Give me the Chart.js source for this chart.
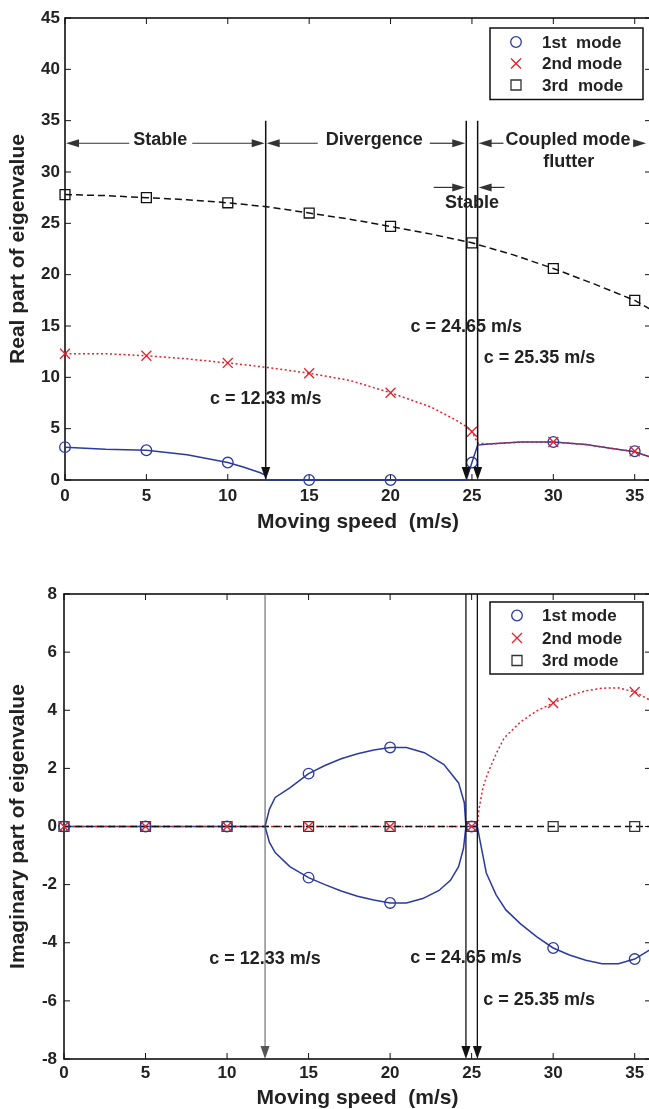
<!DOCTYPE html>
<html>
<head>
<meta charset="utf-8">
<script src="https://cdn.jsdelivr.net/npm/chart.js@4.4.1/dist/chart.umd.min.js"></script>
<style>
html, body { margin: 0; padding: 0; background: #fff; overflow: hidden; width: 649px; height: 1109px; }
canvas { position: absolute; left: 0; }
#c1 { top: 0; }
#c2 { top: 545px; }
</style>
</head>
<body>
<canvas id="c1" width="651" height="545"></canvas>
<canvas id="c2" width="651" height="566"></canvas>
<script>
// ---------- data ----------
const speedTicks = [0, 5, 10, 15, 20, 25, 30, 35];
const realTicks = [0, 5, 10, 15, 20, 25, 30, 35, 40, 45];
const imagTicks = [-8, -6, -4, -2, 0, 2, 4, 6, 8];
const criticalSpeeds = [12.33, 24.65, 25.35];
const criticalLabels = ['c = 12.33 m/s', 'c = 24.65 m/s', 'c = 25.35 m/s'];
const regionLabels = ['Stable', 'Divergence', 'Coupled mode', 'flutter', 'Stable'];
const modeNamesTop = ['1st  mode', '2nd mode', '3rd  mode'];
const modeNamesBottom = ['1st mode', '2nd mode', '3rd mode'];
const xTitle = 'Moving speed  (m/s)';
const yTitleTop = 'Real part of eigenvalue';
const yTitleBottom = 'Imaginary part of eigenvalue';

const markerSpeeds = [0, 5, 10, 15, 20, 25, 30, 35];

// real part (top)
const real1Markers = [3.2, 2.9, 1.7, 0, 0, 1.7, 3.7, 2.8];
const real2Markers = [12.3, 12.1, 11.4, 10.4, 8.5, 4.7, 3.7, 2.8];
const real3Markers = [27.8, 27.5, 27.0, 26.0, 24.7, 23.1, 20.6, 17.5];
const real1CurveX = [0, 2.5, 5, 7.5, 10, 11, 12, 12.33, 12.33, 15, 20, 24.65, 25, 25.35, 26, 28, 30, 32, 33.5, 35, 36];
const real1CurveY = [3.2, 3.0, 2.9, 2.45, 1.7, 1.25, 0.7, 0.45, 0, 0, 0, 0, 1.7, 3.4, 3.5, 3.7, 3.7, 3.45, 3.1, 2.75, 2.2];
const real2CurveX = [0, 2.5, 5, 7.5, 10, 12.5, 15, 17.5, 20, 22.5, 24, 24.65, 25, 25.35, 26, 28, 30, 32, 33.5, 35, 36];
const real2CurveY = [12.3, 12.3, 12.1, 11.8, 11.4, 10.95, 10.4, 9.7, 8.5, 7.1, 5.85, 5.2, 4.7, 3.6, 3.5, 3.7, 3.7, 3.45, 3.1, 2.75, 2.2];
const real3CurveX = [0, 2.5, 5, 7.5, 10, 12.5, 15, 17.5, 20, 22.5, 25, 27.5, 30, 32.5, 35, 36];
const real3CurveY = [27.8, 27.7, 27.5, 27.3, 27.0, 26.6, 26.0, 25.4, 24.7, 23.95, 23.1, 21.95, 20.6, 19.1, 17.5, 16.6];

// imaginary part (bottom)
const imag1MarkerX = [0, 5, 10, 15, 15, 20, 20, 25, 30, 35];
const imag1MarkerY = [0, 0, 0, 1.82, -1.76, 2.72, -2.63, 0, -4.18, -4.56];
const imag2Markers = [0, 0, 0, 0, 0, 0, 4.25, 4.63];
const imag3Markers = [0, 0, 0, 0, 0, 0, 0, 0];
const imag1CurveX = [0, 12.33, 12.6, 12.95, 13.85, 15, 16, 17, 18, 19, 20, 21, 22.1, 23.3, 24.2, 24.55, 24.65, 25.35, 25.5, 25.9, 26.5, 27.1, 28, 29, 30, 31, 32, 33, 34, 35, 36];
const imag1CurveY = [0, 0, 0.6, 1.0, 1.33, 1.82, 2.1, 2.33, 2.5, 2.63, 2.72, 2.72, 2.54, 2.13, 1.5, 0.82, 0, 0, -0.45, -1.6, -2.35, -2.87, -3.35, -3.8, -4.18, -4.42, -4.6, -4.72, -4.72, -4.56, -4.22];
const imag1LowerX = [12.33, 12.6, 12.95, 13.85, 15, 16, 17, 18, 19, 20, 21, 22, 23, 23.7, 24.2, 24.5, 24.65];
const imag1LowerY = [0, -0.55, -0.9, -1.38, -1.76, -2.0, -2.22, -2.4, -2.53, -2.63, -2.63, -2.48, -2.2, -1.85, -1.38, -0.75, 0];
const imag2CurveX = [0, 25.35, 25.45, 25.7, 26, 26.5, 27, 28, 29, 30, 31, 32, 33, 34, 35, 36];
const imag2CurveY = [0, 0, 0.6, 1.35, 1.85, 2.5, 3.05, 3.6, 3.98, 4.25, 4.5, 4.67, 4.76, 4.77, 4.63, 4.33];
const imag3CurveX = [0, 36];
const imag3CurveY = [0, 0];

// ---------- styles ----------
const FONT = '"Liberation Sans", Arial, Helvetica, sans-serif';
const ANN_FONT = 'bold 18px ' + FONT;
const LEG_FONT = 'bold 17px ' + FONT;
const BLUE = '#2b3a9f', RED = '#e8202a', BLACK = '#111111', TEXT = '#222222';

function pts(xs, ys) { return xs.map((x, i) => ({ x: x, y: ys[i] })); }
function lineDs(label, xs, ys, color, dash, order) {
  return { label, data: pts(xs, ys), showLine: true, borderColor: color, borderWidth: 1.5,
    borderDash: dash, pointRadius: 0, pointHoverRadius: 0, tension: 0, fill: false, clip: false, order };
}
function markDs(label, xs, ys, color, style, r, order) {
  return { label, data: pts(xs, ys), showLine: false, pointStyle: style, pointRadius: r, pointHoverRadius: r,
    pointBorderColor: color, pointBackgroundColor: 'rgba(0,0,0,0)', pointBorderWidth: 1.3,
    borderColor: color, backgroundColor: 'rgba(0,0,0,0)', clip: false, order };
}

function seg(ctx, x1, y1, x2, y2) { ctx.beginPath(); ctx.moveTo(x1, y1); ctx.lineTo(x2, y2); ctx.stroke(); }
function arrowHead(ctx, tx, ty, dir, len, half) {
  ctx.beginPath();
  if (dir === 'down') { ctx.moveTo(tx, ty); ctx.lineTo(tx - half, ty - len); ctx.lineTo(tx + half, ty - len); }
  else if (dir === 'left') { ctx.moveTo(tx, ty); ctx.lineTo(tx + len, ty - half); ctx.lineTo(tx + len, ty + half); }
  else { ctx.moveTo(tx, ty); ctx.lineTo(tx - len, ty - half); ctx.lineTo(tx - len, ty + half); }
  ctx.closePath(); ctx.fill();
}
function vArrow(ctx, xs, ys, xv, fromV, toV, color, width) {
  const X = xs.getPixelForValue(xv), Y1 = ys.getPixelForValue(fromV), Y2 = ys.getPixelForValue(toV);
  ctx.strokeStyle = color; ctx.fillStyle = color; ctx.lineWidth = width;
  seg(ctx, X, Y1, X, Y2 - 8);
  arrowHead(ctx, X, Y2, 'down', 13, 4.5);
}
function text(ctx, str, x, y, align) {
  ctx.font = ANN_FONT; ctx.fillStyle = TEXT; ctx.textAlign = align || 'center'; ctx.textBaseline = 'middle';
  ctx.fillText(str, x, y);
}
function regionArrow(ctx, x1, x2, y, str, cx, ty, gapL, gapR, leftHead, rightHead) {
  ctx.font = ANN_FONT;
  const w = ctx.measureText(str).width;
  const tl = cx - w / 2, tr = cx + w / 2;
  ctx.strokeStyle = '#333'; ctx.fillStyle = '#333'; ctx.lineWidth = 1.2;
  seg(ctx, x1 + (leftHead ? 6 : 0), y, tl - gapL, y);
  seg(ctx, tr + gapR, y, x2 - (rightHead ? 6 : 0), y);
  if (leftHead) arrowHead(ctx, x1, y, 'left', 13, 4);
  if (rightHead) arrowHead(ctx, x2, y, 'right', 13, 4);
  text(ctx, str, cx, ty);
}
function drawMarker(ctx, style, x, y, color) {
  ctx.save(); ctx.strokeStyle = color; ctx.lineWidth = 1.3; ctx.beginPath();
  if (style === 'circle') ctx.arc(x, y, 5.3, 0, Math.PI * 2);
  else if (style === 'crossRot') { const d = 5; ctx.moveTo(x - d, y - d); ctx.lineTo(x + d, y + d); ctx.moveTo(x - d, y + d); ctx.lineTo(x + d, y - d); }
  else ctx.rect(x - 5, y - 5, 10, 10);
  ctx.stroke(); ctx.restore();
}
function drawLegend(ctx, a, names, topOff, rightOff, markerX, textX, rowY, boxH) {
  const right = a.right - rightOff, top = a.top + topOff, left = right - 153;
  ctx.save();
  ctx.fillStyle = '#fff'; ctx.fillRect(left, top, right - left, boxH);
  ctx.strokeStyle = '#111'; ctx.lineWidth = 1.5; ctx.strokeRect(left, top, right - left, boxH);
  const styles = ['circle', 'crossRot', 'rect'], colors = [BLUE, RED, '#333'];
  names.forEach((n, i) => {
    const y = top + rowY[i];
    drawMarker(ctx, styles[i], left + markerX, y, colors[i]);
    ctx.font = LEG_FONT; ctx.fillStyle = TEXT; ctx.textAlign = 'left'; ctx.textBaseline = 'middle';
    ctx.fillText(n, left + textX, y + 1);
  });
  ctx.restore();
}
function frame(chart) {
  const { ctx, chartArea: a, scales: { x, y } } = chart;
  ctx.save();
  ctx.strokeStyle = '#111'; ctx.lineWidth = 1.6;
  ctx.strokeRect(a.left, a.top, a.right - a.left, a.bottom - a.top);
  ctx.lineWidth = 1;
  x.ticks.forEach(t => { const p = x.getPixelForValue(t.value); seg(ctx, p, a.bottom, p, a.bottom - 6); seg(ctx, p, a.top, p, a.top + 6); });
  y.ticks.forEach(t => { const p = y.getPixelForValue(t.value); seg(ctx, a.left, p, a.left + 6, p); seg(ctx, a.right, p, a.right - 6, p); });
  ctx.restore();
}

function scalesCfg(yMin, yMax, yTicks, yTitle, yWidth, yPad, xHeight, xPad, xTitlePad) {
  const tickFont = { family: FONT, size: 17, weight: 'bold' };
  const titleFont = { family: FONT, size: 21, weight: 'bold' };
  return {
    x: {
      type: 'linear', min: 0, max: 36,
      afterBuildTicks: s => { s.ticks = speedTicks.map(v => ({ value: v })); },
      afterFit: s => { s.height = xHeight; },
      grid: { display: false, drawTicks: false }, border: { display: false },
      ticks: { font: tickFont, color: TEXT, padding: xPad, maxRotation: 0, autoSkip: false, includeBounds: false },
      title: { display: true, text: xTitle, font: titleFont, color: TEXT, padding: { top: 0, bottom: xTitlePad } }
    },
    y: {
      type: 'linear', min: yMin, max: yMax,
      afterBuildTicks: s => { s.ticks = yTicks.map(v => ({ value: v })); },
      afterFit: s => { s.width = yWidth; },
      grid: { display: false, drawTicks: false }, border: { display: false },
      ticks: { font: tickFont, color: TEXT, padding: yPad, autoSkip: false },
      title: { display: true, text: yTitle, font: titleFont, color: TEXT, padding: { top: 6, bottom: 0 } }
    }
  };
}

// ---------- top chart ----------
const topPlugin = {
  id: 'topAnn',
  beforeDatasetsDraw(chart) { frame(chart); },
  afterDatasetsDraw(chart) {
    const { ctx, chartArea: a, scales: { x, y } } = chart;
    ctx.save();
    criticalSpeeds.forEach(c => vArrow(ctx, x, y, c, 35, 0, BLACK, 1.5));
    const X = v => x.getPixelForValue(v), Y = v => y.getPixelForValue(v);
    text(ctx, criticalLabels[0], X(criticalSpeeds[0]), Y(7.9));
    text(ctx, criticalLabels[1], X(criticalSpeeds[1]), Y(14.9));
    text(ctx, criticalLabels[2], X(criticalSpeeds[2]) + 6, Y(11.9), 'left');
    const ay = Y(32.8), ty = Y(33.1);
    regionArrow(ctx, a.left + 1, X(criticalSpeeds[0]) - 1, ay, regionLabels[0], X(5.85), ty, 4, 5, true, true);
    regionArrow(ctx, X(criticalSpeeds[0]) + 1, X(criticalSpeeds[1]) - 1, ay, regionLabels[1], X(19.0), ty, 8, 7, true, true);
    regionArrow(ctx, X(criticalSpeeds[2]) + 1, X(35.7), ay, regionLabels[2], X(30.9), ty, 2, 5, true, true);
    text(ctx, regionLabels[3], X(30.95), Y(31.0));
    // narrow stable band
    const sy = Y(28.5);
    ctx.strokeStyle = '#333'; ctx.fillStyle = '#333'; ctx.lineWidth = 1.2;
    seg(ctx, X(22.65), sy, X(criticalSpeeds[1]) - 6, sy);
    arrowHead(ctx, X(criticalSpeeds[1]) - 1, sy, 'right', 13, 4);
    seg(ctx, X(27.0), sy, X(criticalSpeeds[2]) + 6, sy);
    arrowHead(ctx, X(criticalSpeeds[2]) + 1, sy, 'left', 13, 4);
    text(ctx, regionLabels[4], X(25.0), Y(26.97));
    drawLegend(ctx, a, modeNamesTop, 10, 8, 26, 52, [14, 35.5, 57], 71.5);
    ctx.restore();
  }
};

new Chart(document.getElementById('c1'), {
  type: 'scatter',
  data: {
    datasets: [
      lineDs(modeNamesTop[0], real1CurveX, real1CurveY, BLUE, [], 6),
      lineDs(modeNamesTop[1], real2CurveX, real2CurveY, RED, [2, 2.5], 5),
      lineDs(modeNamesTop[2], real3CurveX, real3CurveY, BLACK, [7, 4], 4),
      markDs(modeNamesTop[0], markerSpeeds, real1Markers, BLUE, 'circle', 5.3, 2),
      markDs(modeNamesTop[1], markerSpeeds, real2Markers, RED, 'crossRot', 7, 1),
      markDs(modeNamesTop[2], markerSpeeds, real3Markers, BLACK, 'rect', 7, 3)
    ]
  },
  options: {
    responsive: false, animation: false, devicePixelRatio: 1,
    layout: { autoPadding: false, padding: { top: 18, left: 0, right: 0, bottom: 0 } },
    plugins: { legend: { display: false }, tooltip: { enabled: false } },
    scales: scalesCfg(0, 45, realTicks, yTitleTop, 65, 5, 65, 6, 10)
  },
  plugins: [topPlugin]
});

// ---------- bottom chart ----------
const bottomPlugin = {
  id: 'bottomAnn',
  beforeDatasetsDraw(chart) { frame(chart); },
  afterDatasetsDraw(chart) {
    const { ctx, chartArea: a, scales: { x, y } } = chart;
    ctx.save();
    vArrow(ctx, x, y, criticalSpeeds[0], 8, -8, '#555', 1);
    vArrow(ctx, x, y, criticalSpeeds[1], 8, -8, BLACK, 1.3);
    vArrow(ctx, x, y, criticalSpeeds[2], 8, -8, BLACK, 1.3);
    const X = v => x.getPixelForValue(v), Y = v => y.getPixelForValue(v);
    text(ctx, criticalLabels[0], X(criticalSpeeds[0]), Y(-4.56));
    text(ctx, criticalLabels[1], X(criticalSpeeds[1]), Y(-4.52));
    text(ctx, criticalLabels[2], X(criticalSpeeds[2]) + 6, Y(-5.97), 'left');
    drawLegend(ctx, a, modeNamesBottom, 8, 8, 27, 52, [13.5, 36, 58.5], 72);
    ctx.restore();
  }
};

new Chart(document.getElementById('c2'), {
  type: 'scatter',
  data: {
    datasets: [
      lineDs(modeNamesBottom[0], imag1CurveX, imag1CurveY, BLUE, [], 6),
      lineDs(modeNamesBottom[0] + ' (conj.)', imag1LowerX, imag1LowerY, BLUE, [], 6),
      lineDs(modeNamesBottom[1], imag2CurveX, imag2CurveY, RED, [2, 2.5], 5),
      lineDs(modeNamesBottom[2], imag3CurveX, imag3CurveY, BLACK, [7, 4], 4),
      markDs(modeNamesBottom[0], imag1MarkerX, imag1MarkerY, BLUE, 'circle', 5.3, 2),
      markDs(modeNamesBottom[1], markerSpeeds, imag2Markers, RED, 'crossRot', 7, 1),
      markDs(modeNamesBottom[2], markerSpeeds, imag3Markers, '#333', 'rect', 7, 3)
    ]
  },
  options: {
    responsive: false, animation: false, devicePixelRatio: 1,
    layout: { autoPadding: false, padding: { top: 49, left: 0, right: 0, bottom: 0 } },
    plugins: { legend: { display: false }, tooltip: { enabled: false } },
    scales: scalesCfg(-8, 8, imagTicks, yTitleBottom, 64, 7, 52, 4, 0)
  },
  plugins: [bottomPlugin]
});
</script>
</body>
</html>
